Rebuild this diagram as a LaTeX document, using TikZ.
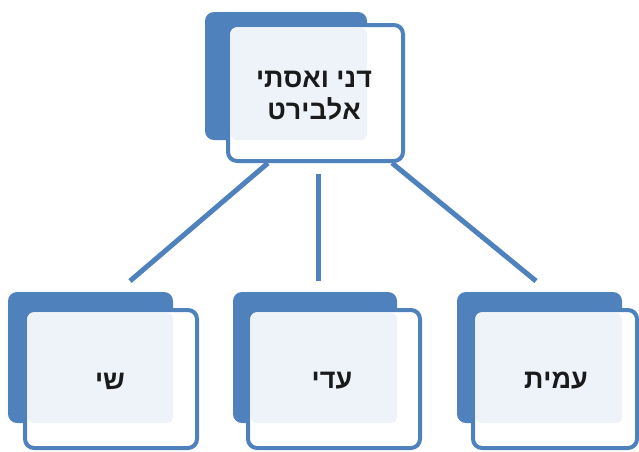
\documentclass[tikz,border=0pt]{standalone}
\usepackage{fontspec}
\setmainfont{Liberation Sans}
\TeXXeTstate=1
\usetikzlibrary{calc}
\definecolor{boxblue}{HTML}{4F81BD}
\definecolor{innerfill}{HTML}{EEF2F9}
\definecolor{txtcol}{HTML}{1A1A1A}
\tikzset{
  backbox/.style={fill=boxblue, rounded corners=9pt},
  whitebox/.style={fill=white, rounded corners=9pt},
  glass/.style={fill=innerfill, rounded corners=6pt},
  frontbox/.style={draw=boxblue, line width=4pt, rounded corners=9pt, inner sep=0pt},
  lbl/.style={font=\bfseries\fontsize{27}{32}\selectfont, text=txtcol, align=center, inner sep=0pt},
  link/.style={draw=boxblue, line width=5pt}
}
\begin{document}
\begin{tikzpicture}[x=1pt,y=-1pt]
\useasboundingbox (0,0) rectangle (639,451);
% ---- top box
\fill[backbox] (205,12) rectangle (367,140);
\fill[whitebox] (228,25) rectangle (403,161);
\fill[glass] (231,28) rectangle (367,140);
\node[frontbox, minimum width=175pt, minimum height=136pt] (top) at (315.5,93) {};
\node[lbl] (toplbl) at (314,96) {\beginR דני ואסתי\endR\\\beginR אלבירט\endR};
% ---- left box
\fill[backbox] (8,292) rectangle (173,423);
\fill[whitebox] (25,310) rectangle (197,448);
\fill[glass] (28,313) rectangle (173,423);
\node[frontbox, minimum width=172pt, minimum height=138pt] (left) at (111,379) {};
\node[lbl] (leftlbl) at (110,381) {\beginR שי\endR};
% ---- middle box
\fill[backbox] (233,292) rectangle (397,423);
\fill[whitebox] (248,310) rectangle (420,448);
\fill[glass] (251,313) rectangle (397,423);
\node[frontbox, minimum width=172pt, minimum height=138pt] (mid) at (334,379) {};
\node[lbl] (midlbl) at (332,381) {\beginR עדי\endR};
% ---- right box
\fill[backbox] (457,292) rectangle (622,423);
\fill[whitebox] (473,310) rectangle (637,448);
\fill[glass] (476,313) rectangle (622,423);
\node[frontbox, minimum width=164pt, minimum height=138pt] (right) at (555,379) {};
\node[lbl] (rightlbl) at (556,381) {\beginR עמית\endR};
% ---- connectors
\draw[link] ($(top.south west)+(42,0)$) -- ($(left.north west)+(107,-27)$);
\draw[link] ($(top.south west)+(92,11)$) -- ($(mid.north west)+(72,-27)$);
\draw[link] ($(top.south east)+(-13,0)$) -- ($(right.north west)+(65,-27)$);
\end{tikzpicture}
\end{document}
